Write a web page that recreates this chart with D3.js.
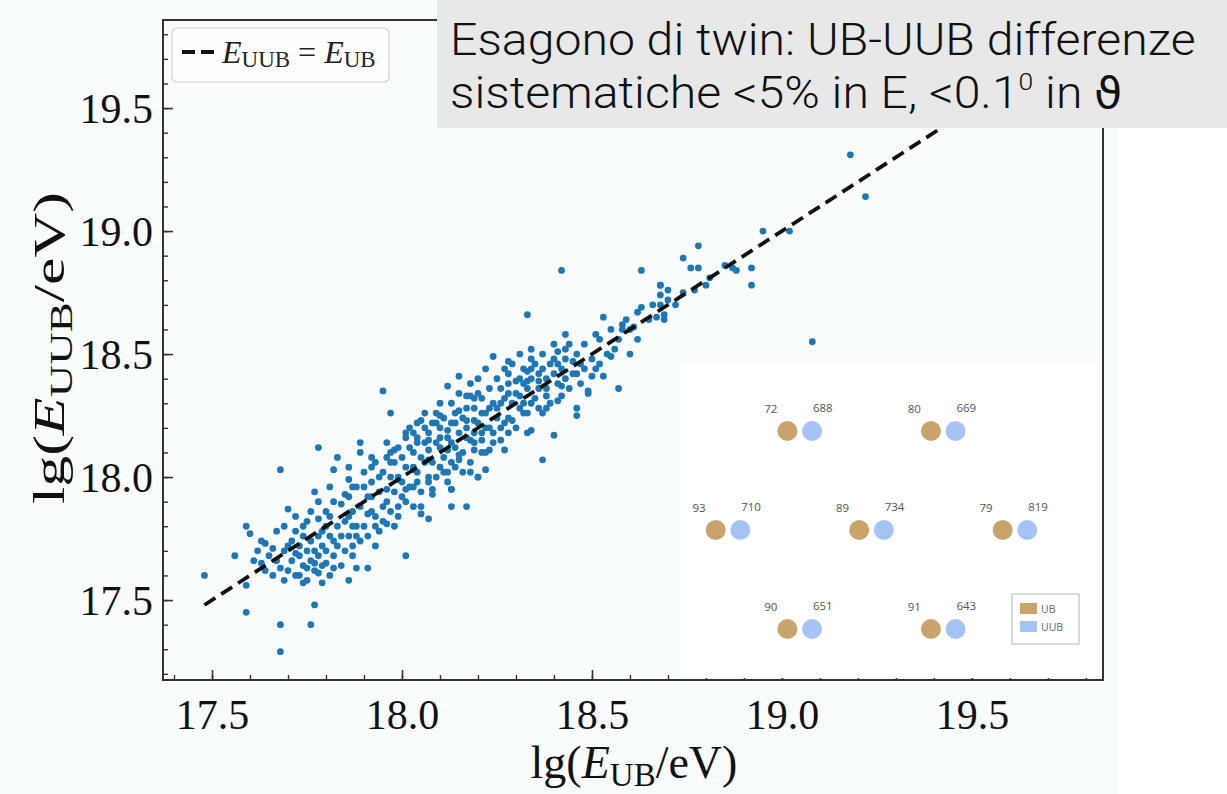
<!DOCTYPE html>
<html>
<head>
<meta charset="utf-8">
<script src="https://cdn.jsdelivr.net/npm/d3@7"></script>
<style>
  html, body { margin: 0; padding: 0; background: #ffffff; }
  svg { display: block; }
</style>
</head>
<body>
<svg id="chart" width="1227" height="794"></svg>
<script>
// Reconstructed energies of twin-station events: lg(E/eV) from UB and UUB electronics
const lgEUB = [
  17.48,17.56,17.59,17.60,17.59,17.59,17.68,17.68,17.76,17.77,
  17.68,17.78,17.68,17.61,17.63,17.63,17.64,17.66,17.67,17.69,
  17.70,17.71,17.70,17.72,17.74,17.75,17.77,17.73,17.75,17.77,
  17.74,17.78,17.79,17.80,17.82,17.86,17.88,17.91,17.93,17.72,
  17.74,17.74,17.77,17.76,17.78,17.78,17.79,17.80,17.81,17.82,
  17.81,17.82,17.83,17.84,17.85,17.86,17.86,17.86,17.87,17.87,
  17.87,17.88,17.89,17.89,17.90,17.91,17.92,17.92,17.93,17.92,
  17.94,17.95,17.96,17.97,17.96,17.98,17.99,17.99,18.00,18.01,
  18.02,18.03,18.03,18.04,18.05,18.07,18.08,18.09,18.10,18.11,
  18.12,18.13,18.13,18.14,18.15,18.17,18.17,18.18,18.20,18.19,
  18.05,18.07,17.95,17.97,18.01,
  18.15,18.22,18.24,18.28,18.33,18.34,18.42,18.43,18.51,18.53,
  18.63,18.68,18.74,18.76,18.57,18.60,18.37,18.46,18.46,18.40,
  18.33,18.34,18.13,18.16,18.18,18.22,18.20,18.08,18.63,18.62,
  18.68,18.68,18.69,18.59,18.58,18.55,18.56,18.53,18.50,18.49,
  18.49,18.52,18.46,18.42,18.42,18.41,18.38,18.38,18.36,18.36,
  18.40,18.41,18.43,18.45,18.34,18.33,18.33,18.32,18.28,18.30,
  18.28,18.31,18.31,18.32,18.34,18.37,18.26,18.25,18.27,18.23,
  18.21,18.19,18.18,18.20,18.15,18.17,18.14,18.12,18.10,18.09,
  18.05,18.06,18.03,18.01,17.98,17.96,17.97,18.04,18.07,18.07,
  18.10,18.12,18.13,18.15,18.17,18.19,18.21,18.22,18.24,18.19,
  18.21,18.23,18.26,18.27,18.28,18.29,18.03,18.06,17.99,18.07,
  18.10,18.12,18.13,18.04,18.01,
  19.18,19.22,18.95,19.02,18.78,18.78,18.87,18.92,18.92,18.81,
  18.68,18.70,18.74,18.77,18.69,18.67,18.61,19.08,
  17.62,17.64,17.65,17.66,17.67,17.69,17.69,17.70,17.71,17.72,
  17.72,17.73,17.73,17.75,17.75,17.76,17.76,17.77,17.78,17.78,
  17.79,17.79,17.80,17.80,17.81,17.81,17.82,17.82,17.83,17.83,
  17.84,17.84,17.85,17.85,17.86,17.86,17.87,17.87,17.88,17.88,
  17.89,17.89,17.90,17.90,17.91,17.91,17.92,17.92,17.93,17.93,
  17.94,17.94,17.95,17.95,17.96,17.96,17.97,17.97,17.98,17.98,
  17.99,17.99,18.00,18.00,18.01,18.01,18.02,18.02,18.03,18.03,
  18.04,18.04,18.05,18.05,18.06,18.06,18.07,18.07,18.08,18.08,
  18.09,18.09,18.10,18.10,18.11,18.11,18.12,18.12,18.13,18.13,
  18.14,18.14,18.15,18.15,18.16,18.16,18.17,18.17,18.18,18.18,
  18.19,18.19,18.20,18.20,18.21,18.21,18.22,18.22,18.23,18.23,
  18.24,18.24,18.25,18.25,18.26,18.26,18.27,18.27,18.28,18.28,
  18.29,18.29,18.30,18.30,18.31,18.31,18.32,18.32,18.33,18.33,
  18.34,18.34,18.35,18.35,18.36,18.36,18.37,18.37,18.38,18.38,
  18.39,18.39,18.40,18.40,18.41,18.41,18.42,18.43,18.43,18.44,
  18.44,18.45,18.46,18.47,18.47,18.48,18.48,18.50,18.51,18.52,
  18.54,18.55,18.57,18.58,18.60,18.62,18.65,18.66,18.70,18.72,
  18.80,18.85,18.88
];
const lgEUUB = [
  17.60,17.68,17.80,17.77,17.56,17.45,17.40,17.29,17.40,17.48,
  18.03,18.12,17.63,17.66,17.65,17.74,17.73,17.71,17.78,17.80,
  17.87,17.74,17.72,17.69,17.64,17.63,17.65,17.60,17.58,17.62,
  17.57,17.61,17.57,17.65,17.63,17.58,17.63,17.63,17.72,17.84,
  17.80,17.76,17.94,17.86,17.83,17.76,17.72,17.80,17.84,17.74,
  17.96,18.03,18.08,17.89,17.93,17.84,17.99,18.04,17.96,17.80,
  17.72,17.76,18.14,18.10,17.96,17.85,18.04,17.92,17.80,18.08,
  18.00,17.88,17.95,18.10,17.81,17.80,17.88,17.99,17.92,18.18,
  18.12,18.04,17.96,18.22,17.88,18.07,17.95,18.26,18.12,18.02,
  18.37,17.88,17.95,18.26,18.07,17.88,18.33,18.15,18.00,18.23,
  17.85,17.83,18.35,18.26,17.68,
  18.41,18.44,18.49,18.47,18.66,18.48,18.84,18.58,18.58,18.65,
  18.84,18.78,18.89,18.85,18.36,18.50,18.07,18.28,18.25,18.17,
  18.18,18.19,17.95,18.02,18.02,18.03,18.00,17.93,18.69,18.67,
  18.74,18.70,18.66,18.64,18.60,18.49,18.52,18.41,18.41,18.34,
  18.35,18.46,18.42,18.37,18.33,18.31,18.33,18.28,18.42,18.39,
  18.48,18.51,18.52,18.47,18.44,18.43,18.39,18.38,18.42,18.39,
  18.34,18.33,18.28,18.26,18.30,18.26,18.30,18.24,18.22,18.28,
  18.26,18.32,18.33,18.34,18.27,18.23,18.22,18.19,18.25,18.22,
  18.23,18.20,18.18,18.16,18.11,18.08,18.06,18.14,18.15,18.11,
  18.16,18.11,18.14,18.09,18.16,18.18,18.15,18.20,18.18,18.11,
  18.10,18.11,18.15,18.11,18.18,18.23,18.03,18.06,18.00,18.00,
  18.04,17.98,18.06,17.98,17.95,
  19.31,19.14,19.00,19.00,18.94,18.85,18.85,18.85,18.78,18.81,
  18.78,18.72,18.75,18.76,18.64,18.65,18.61,18.55,
  17.70,17.62,17.68,17.60,17.66,17.58,17.70,17.62,17.66,17.60,
  17.78,17.68,17.72,17.70,17.82,17.66,17.74,17.70,17.68,17.90,
  17.64,17.78,17.70,17.86,17.60,17.76,17.68,17.90,17.72,17.80,
  17.64,17.76,17.70,17.82,17.76,17.92,17.68,17.86,17.80,17.96,
  17.74,17.88,17.80,18.02,17.76,17.92,17.86,17.98,17.84,18.06,
  17.78,17.94,17.82,18.02,17.90,18.14,17.86,18.00,17.94,18.06,
  17.84,18.12,17.98,18.08,17.90,18.04,17.96,18.20,17.88,18.10,
  18.02,18.16,17.94,18.08,18.14,18.26,17.98,18.18,18.06,18.22,
  18.00,18.14,18.20,18.30,18.08,18.24,18.02,18.16,18.22,18.30,
  18.12,18.04,18.18,18.34,18.10,18.24,18.20,18.28,18.06,18.38,
  18.14,18.28,18.22,18.40,18.18,18.32,18.10,18.26,18.36,18.20,
  18.30,18.14,18.40,18.28,18.20,18.36,18.32,18.44,18.24,18.38,
  18.30,18.46,18.34,18.20,18.40,18.50,18.30,18.44,18.36,18.26,
  18.40,18.52,18.32,18.46,18.36,18.28,18.44,18.50,18.40,18.36,
  18.46,18.30,18.42,18.54,18.38,18.46,18.44,18.40,18.48,18.36,
  18.54,18.42,18.50,18.38,18.46,18.44,18.54,18.48,18.44,18.56,
  18.50,18.60,18.56,18.62,18.60,18.56,18.64,18.70,18.76,18.70,
  18.78,18.86,18.84
];
const xTicks = [17.5, 18.0, 18.5, 19.0, 19.5];
const yTicks = [17.5, 18.0, 18.5, 19.0, 19.5];

// Twin-station hexagon: UB / UUB station ids on a hex grid (column, row)
const stationUB  = [72, 80, 93, 89, 79, 90, 91];
const stationUUB = [688, 669, 710, 734, 819, 651, 643];
const stationCol = [-0.5, 0.5, -1, 0, 1, -0.5, 0.5];
const stationRow = [-1, -1, 0, 0, 0, 1, 1];
const electronics = ["UB", "UUB"];
const electronicsColors = ["#c9a36c", "#a5c3f4"];

const noteLines = ["Esagono di twin: UB-UUB differenze", "sistematiche <5% in E, <0.1", "0", " in ", "\u03D1"];

const svg = d3.select("#chart");
const W = 1227, H = 794;
const serif = "'Liberation Serif', 'DejaVu Serif', serif";

// page backgrounds
svg.append("rect").attr("width", W).attr("height", H).attr("fill", "#ffffff");
svg.append("rect").attr("width", 1118).attr("height", H).attr("fill", "#f9fcfd");

const plot = { left: 163, right: 1103, top: 20, bottom: 680 };
const x = d3.scaleLinear().domain([17.371, 19.845]).range([plot.left, plot.right]);
const y = d3.scaleLinear().domain([17.175, 19.858]).range([plot.bottom, plot.top]);

svg.append("defs").append("clipPath").attr("id", "plotClip")
  .append("rect").attr("x", plot.left).attr("y", plot.top)
  .attr("width", plot.right - plot.left).attr("height", plot.bottom - plot.top);

const data = lgEUB.map((v, i) => ({ ub: v, uub: lgEUUB[i] }));

const inner = svg.append("g").attr("clip-path", "url(#plotClip)");
inner.selectAll("circle.evt").data(data).join("circle")
  .attr("class", "evt")
  .attr("cx", d => x(d.ub)).attr("cy", d => y(d.uub))
  .attr("r", 3.4).attr("fill", "#1f77b4");

// identity line E_UUB = E_UB
const idLine = d3.line().x(d => x(d)).y(d => y(d));
inner.append("path").datum([17.48, 19.85])
  .attr("d", idLine).attr("fill", "none")
  .attr("stroke", "#111").attr("stroke-width", 3.8)
  .attr("stroke-dasharray", "13,7");

// axes with inward ticks
const xMinor = d3.range(17.4, 19.85, 0.1).map(v => +v.toFixed(1));
const yMinor = d3.range(17.2, 19.85, 0.1).map(v => +v.toFixed(1));
const axisColor = "#333";
const tickFont = 42;

const gx = svg.append("g").attr("transform", `translate(0,${plot.bottom})`);
gx.call(d3.axisBottom(x).tickValues(xMinor).tickSize(-5).tickFormat(""));
gx.selectAll(".tick line").attr("stroke", axisColor).attr("stroke-width", 1.4);
const gx2 = svg.append("g").attr("transform", `translate(0,${plot.bottom})`);
gx2.call(d3.axisBottom(x).tickValues(xTicks).tickSize(-10).tickPadding(19).tickFormat(d3.format(".1f")));
gx2.selectAll(".tick line").attr("stroke", axisColor).attr("stroke-width", 1.6);
gx2.selectAll(".tick text").attr("font-family", serif).attr("font-size", tickFont).attr("fill", "#111").attr("dy", "0.71em");
gx.select(".domain").remove(); gx2.select(".domain").remove();

const gy = svg.append("g").attr("transform", `translate(${plot.left},0)`);
gy.call(d3.axisLeft(y).tickValues(yMinor).tickSize(-5).tickFormat(""));
gy.selectAll(".tick line").attr("stroke", axisColor).attr("stroke-width", 1.4);
const gy2 = svg.append("g").attr("transform", `translate(${plot.left},0)`);
gy2.call(d3.axisLeft(y).tickValues(yTicks).tickSize(-10).tickPadding(10).tickFormat(d3.format(".1f")));
gy2.selectAll(".tick line").attr("stroke", axisColor).attr("stroke-width", 1.6);
gy2.selectAll(".tick text").attr("font-family", serif).attr("font-size", tickFont).attr("fill", "#111").attr("dy", "0.34em");
gy.select(".domain").remove(); gy2.select(".domain").remove();

// frame
svg.append("rect").attr("x", plot.left).attr("y", plot.top)
  .attr("width", plot.right - plot.left).attr("height", plot.bottom - plot.top)
  .attr("fill", "none").attr("stroke", axisColor).attr("stroke-width", 2);

// axis titles
const xt = svg.append("text").attr("x", 634).attr("y", 778).attr("text-anchor", "middle")
  .attr("font-family", serif).attr("font-size", 46).attr("fill", "#111");
xt.append("tspan").text("lg(");
xt.append("tspan").attr("font-style", "italic").text("E");
xt.append("tspan").attr("font-size", 33).attr("dy", 8).text("UB");
xt.append("tspan").attr("dy", -8).text("/eV)");

const yt = svg.append("text").attr("transform", "translate(64,348) rotate(-90)").attr("text-anchor", "middle")
  .attr("font-family", serif).attr("font-size", 44).attr("fill", "#111")
  .attr("textLength", 312).attr("lengthAdjust", "spacingAndGlyphs");
yt.append("tspan").text("lg(");
yt.append("tspan").attr("font-style", "italic").text("E");
yt.append("tspan").attr("font-size", 32).attr("dy", 8).text("UUB");
yt.append("tspan").attr("dy", -8).text("/eV)");

// legend of the identity line
svg.append("rect").attr("x", 172).attr("y", 28).attr("width", 217).attr("height", 54).attr("rx", 5)
  .attr("fill", "#fdfefe").attr("stroke", "#cfcfcf").attr("stroke-width", 1.2);
svg.append("line").attr("x1", 182).attr("x2", 216).attr("y1", 52).attr("y2", 52)
  .attr("stroke", "#111").attr("stroke-width", 3.8).attr("stroke-dasharray", "13,6");
const lt = svg.append("text").attr("x", 222).attr("y", 63).attr("font-family", serif).attr("font-size", 32).attr("fill", "#222");
lt.append("tspan").attr("font-style", "italic").text("E");
lt.append("tspan").attr("font-size", 23).attr("dy", 4).text("UUB");
lt.append("tspan").attr("dy", -4).text(" = ");
lt.append("tspan").attr("font-style", "italic").text("E");
lt.append("tspan").attr("font-size", 23).attr("dy", 4).text("UB");

// inset: twin station hexagon
const inset = { left: 680, top: 363, right: 1101, bottom: 678 };
svg.append("rect").attr("x", inset.left).attr("y", inset.top)
  .attr("width", inset.right - inset.left).attr("height", inset.bottom - inset.top).attr("fill", "#ffffff");

const hx = d3.scaleLinear().domain([-1, 1]).range([728, 1015]);
const hy = d3.scaleLinear().domain([-1, 1]).range([431, 629]);
const stations = stationUB.map((ub, i) => ({ ub, uub: stationUUB[i], c: stationCol[i], r: stationRow[i] }));
const insetFont = "'Open Sans', 'Noto Sans', sans-serif";
const sg = svg.append("g").selectAll("g").data(stations).join("g")
  .attr("transform", d => `translate(${hx(d.c)},${hy(d.r)})`);
sg.append("circle").attr("cx", -12.3).attr("cy", 0).attr("r", 10).attr("fill", electronicsColors[0]);
sg.append("circle").attr("cx", 12.3).attr("cy", 0).attr("r", 10).attr("fill", electronicsColors[1]);
sg.append("text").attr("x", -29).attr("y", -18).attr("text-anchor", "middle")
  .attr("font-family", insetFont).attr("font-size", 11.5).attr("fill", "#555").text(d => d.ub);
sg.append("text").attr("x", 23).attr("y", -19).attr("text-anchor", "middle")
  .attr("font-family", insetFont).attr("font-size", 11.5).attr("fill", "#555").text(d => d.uub);

const lg = svg.append("g").attr("transform", "translate(1012,594)");
lg.append("rect").attr("width", 67).attr("height", 50).attr("fill", "#fff").attr("stroke", "#b5b5b5").attr("stroke-width", 1);
electronics.forEach((name, i) => {
  lg.append("rect").attr("x", 8).attr("y", 9 + i * 18).attr("width", 17).attr("height", 11).attr("fill", electronicsColors[i]);
  lg.append("text").attr("x", 29).attr("y", 19 + i * 18).attr("font-family", insetFont)
    .attr("font-size", 10.5).attr("fill", "#666").text(name);
});

// grey note box
svg.append("rect").attr("x", 437).attr("y", 0).attr("width", W - 437).attr("height", 128).attr("fill", "#e8e8e8");
const noteFont = "Roboto, 'Liberation Sans', sans-serif";
const noteSize = 44;
const note = svg.append("g");
const n1 = note.append("text").attr("x", 0).attr("y", 55).attr("font-family", noteFont)
  .attr("font-weight", 300).attr("font-size", noteSize).attr("fill", "#111").text(noteLines[0]);
const n2 = note.append("text").attr("x", 0).attr("y", 108).attr("font-family", noteFont)
  .attr("font-weight", 300).attr("font-size", noteSize).attr("fill", "#111");
n2.append("tspan").text(noteLines[1]);
n2.append("tspan").attr("font-size", noteSize * 0.55).attr("dy", -noteSize * 0.4).text(noteLines[2]);
n2.append("tspan").attr("dy", noteSize * 0.4).text(noteLines[3]);
n2.append("tspan").attr("font-family", "'DejaVu Sans', sans-serif").attr("font-weight", 400)
  .attr("font-size", noteSize * 0.95).text(noteLines[4]);
const sx = 746 / n1.node().getComputedTextLength();
note.attr("transform", `translate(450,0) scale(${sx},1)`);
</script>
</body>
</html>
